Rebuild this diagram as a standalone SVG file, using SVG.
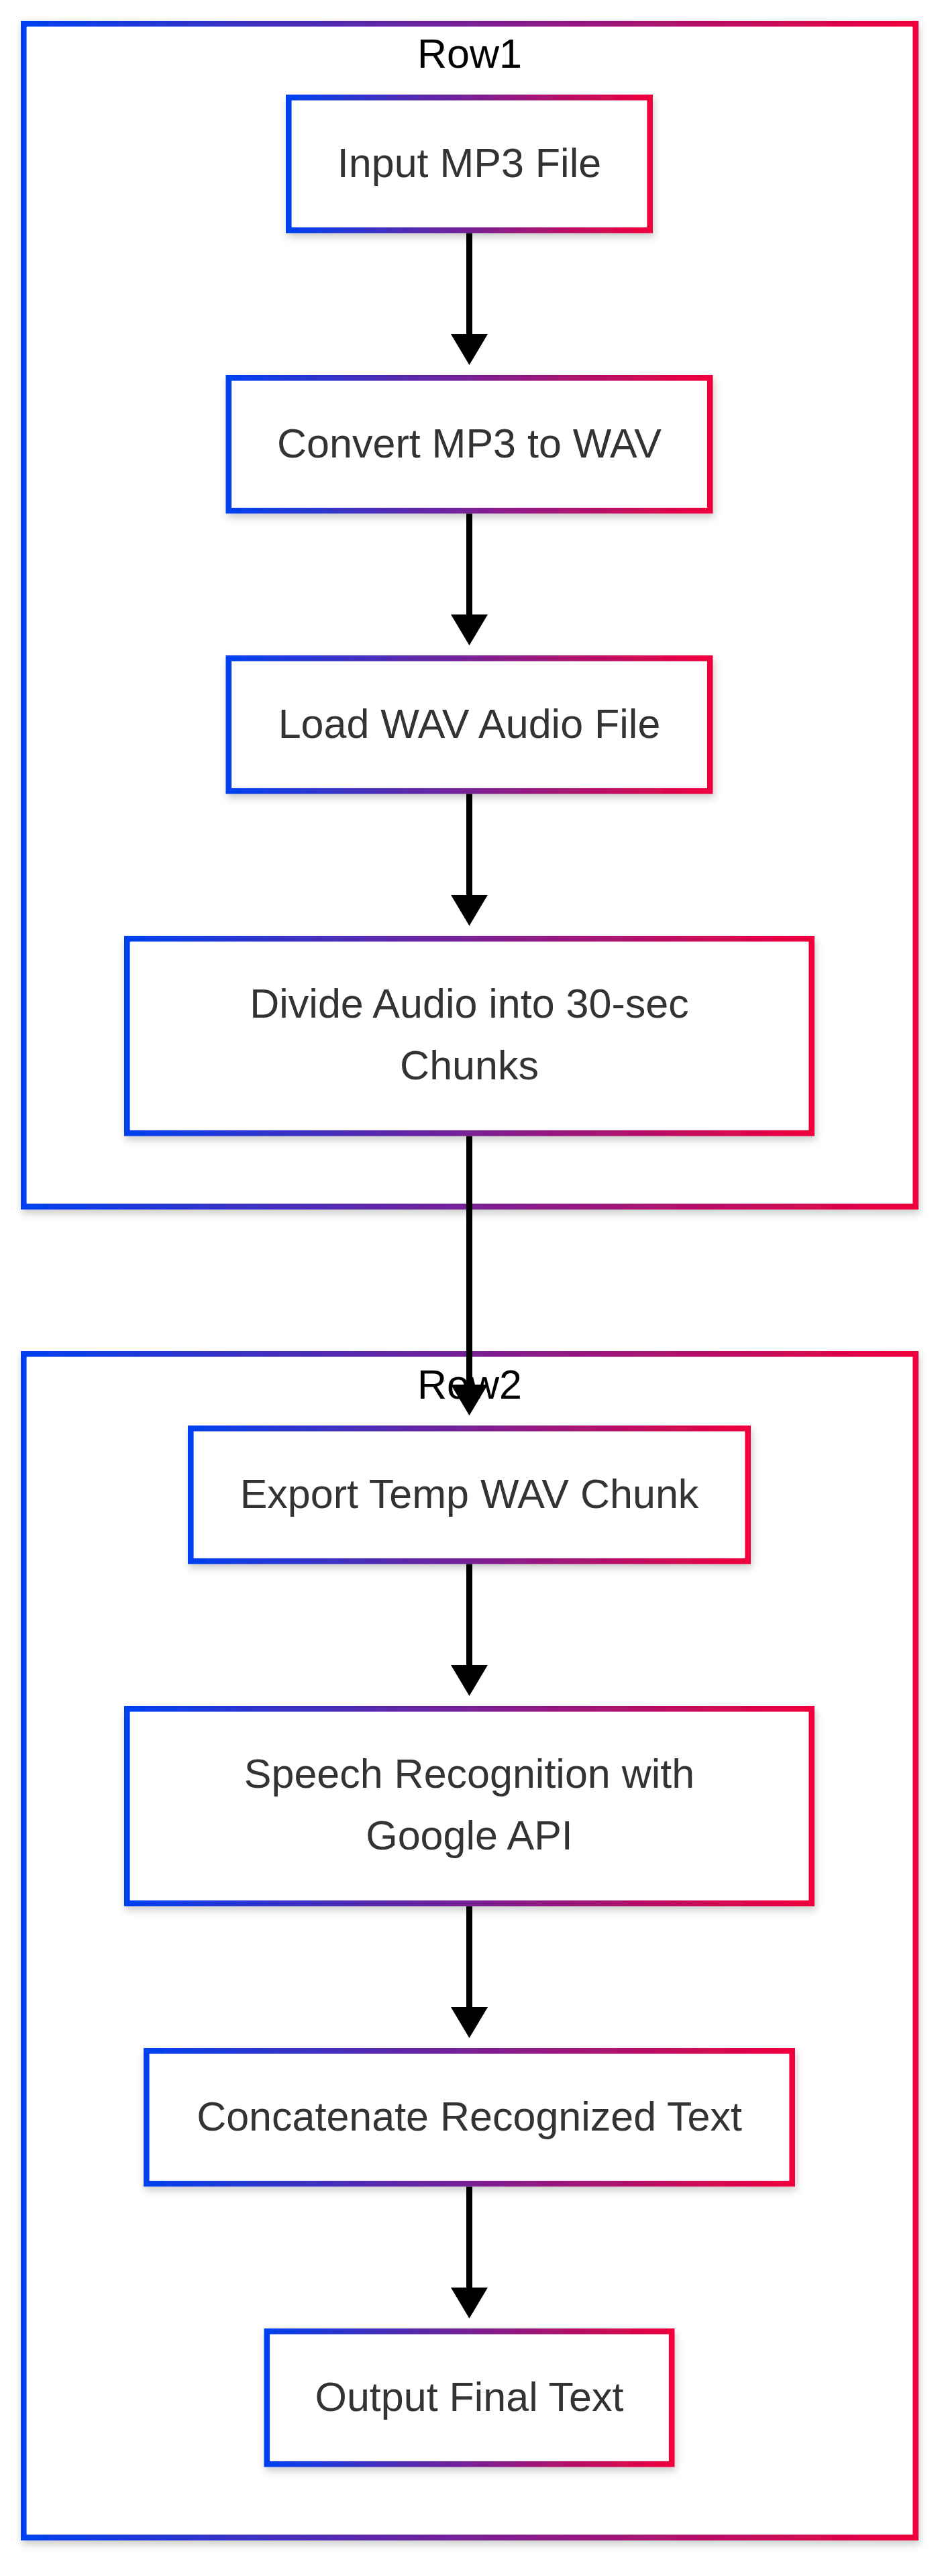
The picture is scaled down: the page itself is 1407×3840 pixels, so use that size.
<svg xmlns="http://www.w3.org/2000/svg" width="1407" height="3840" viewBox="0 0 1407 3840">
<style>
.box{fill:#ffffff;stroke:url(#grad);stroke-width:8.6;filter:url(#shadow)}
.lbl{font-family:"Liberation Sans",Arial,sans-serif;font-size:61px;fill:#333333;text-anchor:middle}
.clbl{font-family:"Liberation Sans",Arial,sans-serif;font-size:61px;fill:#000000;text-anchor:middle}
.edge{fill:none;stroke:#000000;stroke-width:9;marker-end:url(#arrow)}
</style>
<defs>
<linearGradient id="grad" x1="0" y1="0" x2="1" y2="0">
<stop offset="0" stop-color="#0041f0"/>
<stop offset="1" stop-color="#f0003c"/>
</linearGradient>
<filter id="shadow" x="-10%" y="-10%" width="120%" height="130%">
<feDropShadow dx="2" dy="6" stdDeviation="6" flood-color="#000000" flood-opacity="0.2"/>
</filter>
<marker id="arrow" viewBox="0 0 10 10" refX="0.2" refY="5" markerWidth="46" markerHeight="55" markerUnits="userSpaceOnUse" orient="auto" preserveAspectRatio="none">
<path d="M0,0 L10,5 L0,10 z" fill="#000000"/>
</marker>
</defs>
<rect width="1407" height="3840" fill="#ffffff"/>
<g id="cluster-Row1">
<rect class="box" x="35.3" y="35.3" width="1329.4" height="1763.4"/>
<text class="clbl" x="700" y="100.5">Row1</text>
</g>
<g id="cluster-Row2">
<rect class="box" x="35.3" y="2018.3" width="1329.4" height="1764.4"/>
<text class="clbl" x="700" y="2084.5">Row2</text>
</g>
<g id="node-input">
<rect class="box" x="430.3" y="145.3" width="538.4" height="197.9"/>
<text class="lbl" x="699.5" y="264">Input MP3 File</text>
</g>
<g id="node-convert">
<rect class="box" x="340.8" y="563.3" width="717.4" height="197.9"/>
<text class="lbl" x="699.5" y="682">Convert MP3 to WAV</text>
</g>
<g id="node-load">
<rect class="box" x="340.8" y="981.3" width="717.4" height="197.9"/>
<text class="lbl" x="699.5" y="1100">Load WAV Audio File</text>
</g>
<g id="node-divide">
<rect class="box" x="189.3" y="1399.3" width="1020.4" height="289.9"/>
<text class="lbl" x="699.5" y="1517">Divide Audio into 30-sec</text>
<text class="lbl" x="699.5" y="1609">Chunks</text>
</g>
<g id="node-export">
<rect class="box" x="284.3" y="2129.3" width="830.4" height="197.9"/>
<text class="lbl" x="699.5" y="2248">Export Temp WAV Chunk</text>
</g>
<g id="node-speech">
<rect class="box" x="189.3" y="2547.3" width="1020.4" height="289.9"/>
<text class="lbl" x="699.5" y="2665">Speech Recognition with</text>
<text class="lbl" x="699.5" y="2757">Google API</text>
</g>
<g id="node-concat">
<rect class="box" x="218.3" y="3057.3" width="962.4" height="197.9"/>
<text class="lbl" x="699.5" y="3176">Concatenate Recognized Text</text>
</g>
<g id="node-output">
<rect class="box" x="397.8" y="3475.3" width="603.4" height="197.9"/>
<text class="lbl" x="699.5" y="3594">Output Final Text</text>
</g>
<g id="connectors">
<path class="edge" d="M699.5,347.5 L699.5,499"/>
<path class="edge" d="M699.5,765.5 L699.5,917"/>
<path class="edge" d="M699.5,1183.5 L699.5,1335"/>
<path class="edge" d="M699.5,1693.5 L699.5,2065"/>
<path class="edge" d="M699.5,2331.5 L699.5,2483"/>
<path class="edge" d="M699.5,2841.5 L699.5,2993"/>
<path class="edge" d="M699.5,3259.5 L699.5,3411"/>
</g>
</svg>
